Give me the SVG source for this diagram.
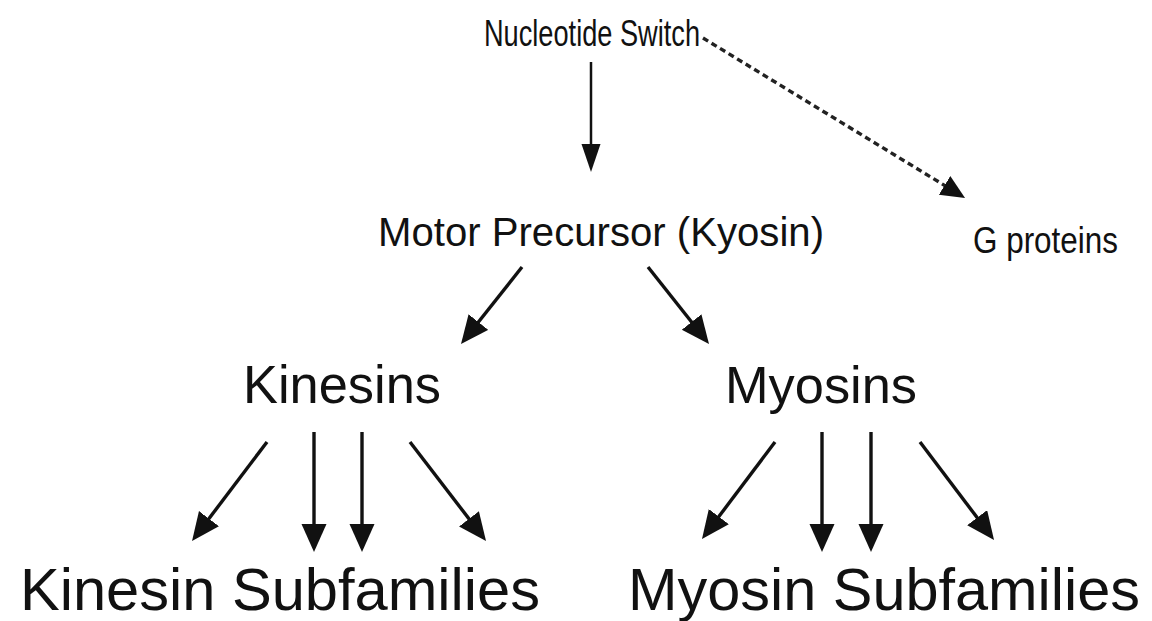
<svg xmlns="http://www.w3.org/2000/svg" width="1152" height="621" viewBox="0 0 1152 621">
<style>
text{font-family:"Liberation Sans",Arial,Helvetica,sans-serif;fill:#111;}
.ln{stroke:#111;stroke-width:3.4;fill:none;marker-end:url(#ah);}
.lt{stroke:#111;stroke-width:2.5;fill:none;marker-end:url(#ahs);}
.ds{stroke:#222;stroke-width:3.4;fill:none;stroke-dasharray:6 4;marker-end:url(#ahd);}
</style>
<defs>
<marker id="ah" markerUnits="userSpaceOnUse" markerWidth="30" markerHeight="27" refX="14" refY="12.5" orient="auto">
<path d="M0,0 L28,12.5 L0,25 z" fill="#111"/>
</marker>
<marker id="ahs" markerUnits="userSpaceOnUse" markerWidth="30" markerHeight="22" refX="14" refY="9.5" orient="auto">
<path d="M0,0 L28,9.5 L0,19 z" fill="#111"/>
</marker>
<marker id="ahd" markerUnits="userSpaceOnUse" markerWidth="26" markerHeight="24" refX="12" refY="11" orient="auto">
<path d="M0,0 L24,11 L0,22 z" fill="#111"/>
</marker>
</defs>
<rect width="1152" height="621" fill="#fff"/>
<g id="connectors">
<line class="lt" x1="591" y1="62" x2="591" y2="158"/>
<line class="ds" x1="703" y1="38" x2="954.8" y2="191.7"/>
<line class="ln" x1="522" y1="267" x2="469.7" y2="333"/>
<line class="ln" x1="648" y1="267" x2="700.3" y2="333"/>
<line class="ln" x1="267" y1="442" x2="200.5" y2="529.8"/>
<line class="ln" x1="314" y1="432" x2="314" y2="538"/>
<line class="ln" x1="362" y1="432" x2="362" y2="538"/>
<line class="ln" x1="410" y1="442" x2="477.5" y2="529.9"/>
<line class="ln" x1="775" y1="442" x2="710.4" y2="527.8"/>
<line class="ln" x1="822" y1="432" x2="822" y2="538"/>
<line class="ln" x1="871" y1="432" x2="871" y2="538"/>
<line class="ln" x1="920" y1="442" x2="985.6" y2="528.8"/>
</g>
<g id="nucleotide-switch"><text x="484" y="46" font-size="37" textLength="216" lengthAdjust="spacingAndGlyphs">Nucleotide Switch</text></g>
<g id="motor-precursor"><text x="378" y="246" font-size="41" textLength="446" lengthAdjust="spacingAndGlyphs">Motor Precursor (Kyosin)</text></g>
<g id="g-proteins"><text x="973" y="253" font-size="37" textLength="145" lengthAdjust="spacingAndGlyphs">G proteins</text></g>
<g id="kinesins"><text x="243" y="403" font-size="53" textLength="198" lengthAdjust="spacingAndGlyphs">Kinesins</text></g>
<g id="myosins"><text x="725" y="403" font-size="52.5" textLength="192" lengthAdjust="spacingAndGlyphs">Myosins</text></g>
<g id="kinesin-subfamilies"><text x="20" y="610" font-size="59.5" textLength="520" lengthAdjust="spacingAndGlyphs">Kinesin Subfamilies</text></g>
<g id="myosin-subfamilies"><text x="628" y="610" font-size="59.5" textLength="512" lengthAdjust="spacingAndGlyphs">Myosin Subfamilies</text></g>
</svg>
